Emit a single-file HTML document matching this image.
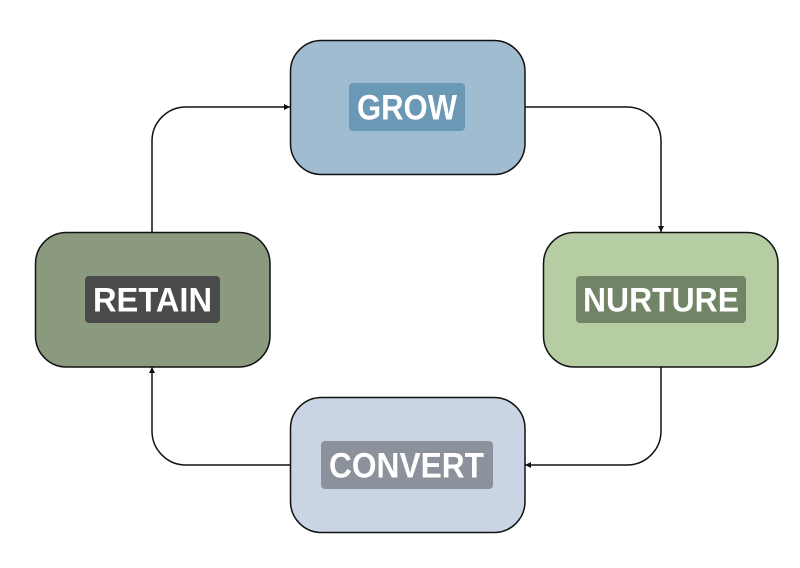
<!DOCTYPE html>
<html><head><meta charset="utf-8"><style>
html,body{margin:0;padding:0;background:#fff;}
svg{display:block;}
text{font-family:"Liberation Sans",Arial,sans-serif;font-weight:bold;fill:#fff;}
</style></head><body>
<svg width="800" height="568" viewBox="0 0 800 568" xmlns="http://www.w3.org/2000/svg">
<defs>
<marker id="ah" viewBox="0 0 10 10" refX="10" refY="5" markerWidth="6" markerHeight="6" orient="auto" markerUnits="userSpaceOnUse">
<path d="M0,0 L10,5 L0,10 z" fill="#111"/>
</marker>
</defs>
<g fill="none" stroke="#111" stroke-width="1.5">
<path d="M525,107 H627 A34,34 0 0 1 661,141 V232" marker-end="url(#ah)"/>
<path d="M661,367 V431 A34,34 0 0 1 627,465 H525" marker-end="url(#ah)"/>
<path d="M290,465 H186 A34,34 0 0 1 152,431 V367" marker-end="url(#ah)"/>
<path d="M152,232 V141 A34,34 0 0 1 186,107 H290" marker-end="url(#ah)"/>
</g>
<g stroke="#111" stroke-width="1.5">
<rect x="290.5" y="40.5" width="234.5" height="134" rx="31" fill="#a0bcd0"/>
<rect x="35.5" y="232.5" width="234.5" height="134.5" rx="31" fill="#8b9a7e"/>
<rect x="543.5" y="232.5" width="234.5" height="134.5" rx="31" fill="#b6cda3"/>
<rect x="290.5" y="397.5" width="234.5" height="135" rx="31" fill="#c9d5e5"/>
</g>
<rect x="349" y="83" width="116" height="48" rx="4" fill="#6b98b5"/>
<rect x="85" y="276" width="135" height="47" rx="4" fill="#4a4a4a"/>
<rect x="576" y="276" width="170" height="47" rx="4" fill="#728466"/>
<rect x="321" y="441" width="172" height="48" rx="4" fill="#8c929c"/>
<text x="407" y="119.5" font-size="35" text-anchor="middle" textLength="100" lengthAdjust="spacingAndGlyphs">GROW</text>
<text x="152.5" y="311.5" font-size="34" text-anchor="middle" textLength="119" lengthAdjust="spacingAndGlyphs">RETAIN</text>
<text x="661" y="311.5" font-size="34" text-anchor="middle" textLength="156" lengthAdjust="spacingAndGlyphs">NURTURE</text>
<text x="406.5" y="477.5" font-size="35" text-anchor="middle" textLength="155" lengthAdjust="spacingAndGlyphs">CONVERT</text>
</svg>
</body></html>
